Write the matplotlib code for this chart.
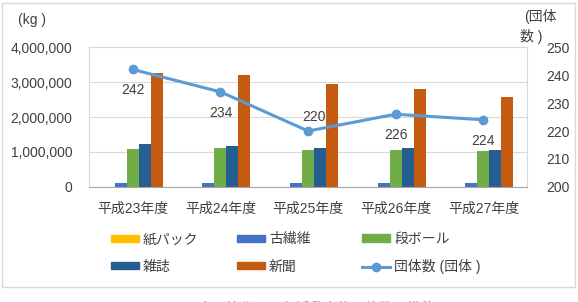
import matplotlib
matplotlib.use("Agg")
from matplotlib import pyplot as plt
from matplotlib.patches import Rectangle
from matplotlib.lines import Line2D
from matplotlib.ticker import FuncFormatter
import numpy as np

plt.rcParams['font.family'] = ['Liberation Sans', 'Noto Sans CJK JP', 'DejaVu Sans']

years = ['平成23年度', '平成24年度', '平成25年度', '平成26年度', '平成27年度']
series_names = ['紙パック', '古繊維', '段ボール', '雑誌', '新聞']
kami_pack = [8000, 8000, 8000, 8000, 8000]
ko_seni = [110000, 105000, 105000, 110000, 105000]
danboru = [1090000, 1100000, 1070000, 1060000, 1030000]
zasshi = [1230000, 1160000, 1120000, 1110000, 1060000]
shinbun = [3260000, 3190000, 2950000, 2800000, 2580000]
dantai = [242, 234, 220, 226, 224]
colors = ['#FFC000', '#4472C4', '#70AD47', '#255E91', '#C55A11']
line_color = '#5B9BD5'
txt = '#404040'

fig = plt.figure(figsize=(5.78, 3.02), dpi=100)
ax = fig.add_axes([0.154, 0.381, 0.758, 0.463])

x = np.arange(len(years))
w = 0.137
values = [kami_pack, ko_seni, danboru, zasshi, shinbun]
for i, vals in enumerate(values):
    ax.bar(x + (i - 2) * w, vals, w, color=colors[i], zorder=2)

ax.set_xlim(-0.5, 4.5)
ax.set_ylim(0, 4000000)
ax.set_yticks([0, 1000000, 2000000, 3000000, 4000000])
ax.yaxis.set_major_formatter(FuncFormatter(lambda v, p: f'{int(v):,}'))
ax.grid(axis='y', color='#D9D9D9', linewidth=0.8, zorder=0)
ax.set_xticks(x)
ax.set_xticklabels(years, fontsize=10, color=txt)
ax.tick_params(axis='both', length=0, labelsize=10, colors=txt)
ax.tick_params(axis='x', pad=11)
ax.tick_params(axis='y', pad=12)
for s in ['top', 'right', 'left']:
    ax.spines[s].set_color('#D9D9D9')
ax.spines['bottom'].set_color('#A6A6A6')

ax2 = ax.twinx()
ax2.plot(x, dantai, color=line_color, linewidth=2.2, marker='o', markersize=6, zorder=3)
ax2.set_ylim(200, 250)
ax2.set_yticks([200, 210, 220, 230, 240, 250])
ax2.tick_params(axis='y', length=0, labelsize=10, colors=txt, pad=14)
for s in ax2.spines.values():
    s.set_visible(False)
# data labels: below the point, except 220 which sits above
offsets = [(0, -15), (0, -15), (4, 10), (0, -15), (0, -15)]
for xi, v, off in zip(x, dantai, offsets):
    ax2.annotate(str(v), (xi, v), xytext=off, textcoords='offset points',
                 ha='center', va='center', fontsize=10, color=txt)

fig.text(18 / 578, 1 - 20 / 302, '(kg )', fontsize=10, color=txt, va='center')
fig.text(524 / 578, 1 - 17 / 302, '(団体', fontsize=10, color=txt, va='center')
fig.text(520 / 578, 1 - 37 / 302, '数 )', fontsize=10, color=txt, va='center')

# legend, three columns placed separately
handles = [Rectangle((0, 0), 1, 1, color=c) for c in colors]
handles.append(Line2D([0], [0], color=line_color, linewidth=2.2, marker='o', markersize=6))
labels = series_names + ['団体数 (団体 )']
columns = [[0, 3], [1, 4], [2, 5]]
col_x = [100, 226, 351]
for cx, col in zip(col_x, columns):
    leg = fig.legend([handles[i] for i in col], [labels[i] for i in col],
                     loc='center left', bbox_to_anchor=(cx / 578, 1 - 253 / 302),
                     frameon=False, fontsize=10, handlelength=2.0, handleheight=0.45,
                     handletextpad=0.3, labelspacing=0.95, borderpad=0.3)
    for t in leg.get_texts():
        t.set_color(txt)

fig.patches.append(Rectangle((2 / 578, 1 - 287 / 302), 573 / 578, 284 / 302,
                             transform=fig.transFigure, fill=False,
                             edgecolor='#D9D9D9', linewidth=1))
fig.text(0.5, 1 - 308 / 302, '図　　　古紙等集団回収活動実施団体数の推移',
         fontsize=10, color='#808080', ha='center', va='center')

fig.savefig('out.png', dpi=100)
